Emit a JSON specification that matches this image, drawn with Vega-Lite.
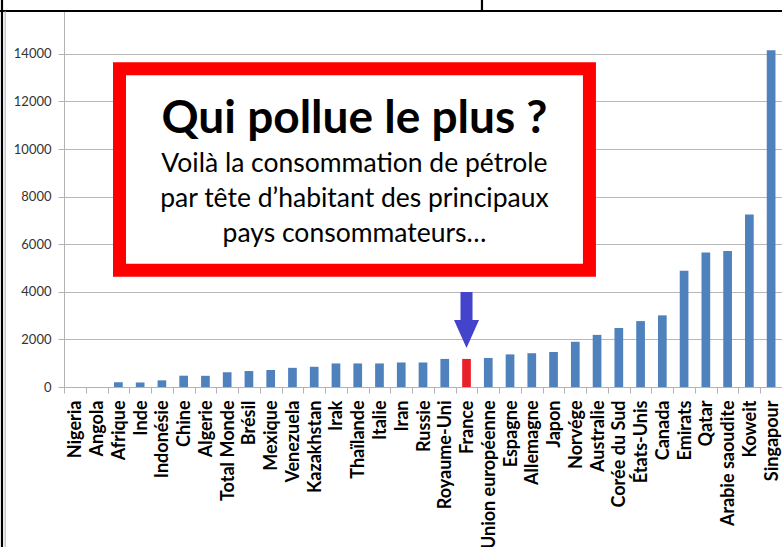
{
  "$schema": "https://vega.github.io/schema/vega-lite/v6.json",
  "autosize": "none",
  "width": 718,
  "height": 376,
  "padding": {"left": 64, "top": 11, "right": 0, "bottom": 160},
  "background": "white",
  "config": {"view": {"stroke": null}},
  "resolve": {"scale": {"x": "independent"}, "axis": {"y": "independent"}},
  "layer": [
    {
      "data": {"values": [
        {"pays": "Nigeria", "conso": 0},
        {"pays": "Angola", "conso": 0},
        {"pays": "Afrique", "conso": 200},
        {"pays": "Inde", "conso": 190},
        {"pays": "Indonésie", "conso": 280},
        {"pays": "Chine", "conso": 475},
        {"pays": "Algerie", "conso": 470},
        {"pays": "Total Monde", "conso": 620},
        {"pays": "Brésil", "conso": 670},
        {"pays": "Mexique", "conso": 715},
        {"pays": "Venezuela", "conso": 805},
        {"pays": "Kazakhstan", "conso": 850},
        {"pays": "Irak", "conso": 990},
        {"pays": "Thaïlande", "conso": 990},
        {"pays": "Italie", "conso": 990},
        {"pays": "Iran", "conso": 1030},
        {"pays": "Russie", "conso": 1030},
        {"pays": "Royaume-Uni", "conso": 1180},
        {"pays": "France", "conso": 1180},
        {"pays": "Union européenne", "conso": 1220},
        {"pays": "Espagne", "conso": 1370},
        {"pays": "Allemagne", "conso": 1420},
        {"pays": "Japon", "conso": 1470},
        {"pays": "Norvége", "conso": 1900},
        {"pays": "Australie", "conso": 2190},
        {"pays": "Corée du Sud", "conso": 2480},
        {"pays": "États-Unis", "conso": 2770},
        {"pays": "Canada", "conso": 3010},
        {"pays": "Emirats", "conso": 4880},
        {"pays": "Qatar", "conso": 5650},
        {"pays": "Arabie saoudite", "conso": 5710},
        {"pays": "Koweit", "conso": 7250},
        {"pays": "Singapour", "conso": 14150}
      ]},
      "mark": {"type": "bar", "width": {"band": 0.4}},
      "encoding": {
        "x": {
          "field": "pays", "type": "nominal", "sort": null,
          "scale": {"paddingInner": 0, "paddingOuter": 0},
          "axis": {
            "title": null, "labelAngle": 270, "labelAlign": "right", "labelBaseline": "middle",
            "labelFont": "Lato", "labelFontWeight": "bold", "labelFontSize": 18, "labelColor": "#000000",
            "labelPadding": 7, "labelLimit": 0, "tickSize": 6, "tickBand": "extent",
            "tickColor": "#B3B3B3", "domainColor": "#B3B3B3", "labelOffset": 1
          }
        },
        "y": {
          "field": "conso", "type": "quantitative",
          "scale": {"domain": [0, 15800], "nice": false, "zero": true},
          "axis": {
            "title": null, "values": [0, 2000, 4000, 6000, 8000, 10000, 12000, 14000],
            "labelFont": "Lato", "labelFontSize": 13, "labelColor": "#333333", "labelPadding": 7,
            "tickSize": 6, "tickColor": "#B3B3B3", "domainColor": "#B3B3B3",
            "grid": true, "gridColor": "#B8B8B8", "format": "d"
          }
        },
        "color": {
          "condition": {"test": "datum.pays === 'France'", "value": "#E8202A"},
          "value": "#4F81BD"
        }
      }
    },
    {
      "layer": [
        {
          "data": {"values": [{"x0": 2.551, "x1": 24.15, "y0": 4908, "y1": 13371}]},
          "mark": {"type": "rect", "fill": "white", "stroke": "#FF0000", "strokeWidth": 13},
          "encoding": {
            "x": {"field": "x0", "type": "quantitative", "scale": {"domain": [0, 33], "nice": false, "zero": false}, "axis": null},
            "x2": {"field": "x1"},
            "y": {"field": "y0", "type": "quantitative", "scale": {"domain": [0, 15800], "nice": false}, "axis": null},
            "y2": {"field": "y1"}
          }
        },
        {
          "data": {"values": [{"x": 13.35, "y": 10673, "texte": "Qui pollue le plus ?"}]},
          "mark": {"type": "text", "font": "Lato", "fontWeight": "bold", "fontSize": 46, "align": "center", "baseline": "alphabetic", "color": "#000000"},
          "encoding": {
            "x": {"field": "x", "type": "quantitative", "scale": {"domain": [0, 33], "nice": false, "zero": false}, "axis": null},
            "y": {"field": "y", "type": "quantitative", "scale": {"domain": [0, 15800], "nice": false}, "axis": null},
            "text": {"field": "texte"}
          }
        },
        {
          "data": {"values": [
            {"x": 13.35, "y": 9047, "texte": "Voilà la consommation de pétrole"},
            {"x": 13.35, "y": 7576, "texte": "par tête d’habitant des principaux"},
            {"x": 13.35, "y": 6105, "texte": "pays consommateurs…"}
          ]},
          "mark": {"type": "text", "font": "Lato", "fontSize": 26.5, "align": "center", "baseline": "alphabetic", "color": "#000000"},
          "encoding": {
            "x": {"field": "x", "type": "quantitative", "scale": {"domain": [0, 33], "nice": false, "zero": false}, "axis": null},
            "y": {"field": "y", "type": "quantitative", "scale": {"domain": [0, 15800], "nice": false}, "axis": null},
            "text": {"field": "texte"}
          }
        },
        {
          "data": {"values": [{"x": 18.5, "y": 2815}]},
          "mark": {"type": "point", "filled": true, "opacity": 1, "size": 625, "color": "#4343CC", "strokeWidth": 0,
                   "shape": "M-0.48,-2.24L0.48,-2.24L0.48,0L1,0L0,2.24L-1,0L-0.48,0Z"},
          "encoding": {
            "x": {"field": "x", "type": "quantitative", "scale": {"domain": [0, 33], "nice": false, "zero": false}, "axis": null},
            "y": {"field": "y", "type": "quantitative", "scale": {"domain": [0, 15800], "nice": false}, "axis": null}
          }
        },
        {
          "data": {"values": [
            {"x0": -2.94, "x1": 33, "y0": 15800, "y1": 15800, "trait": "haut"},
            {"x0": 19.21, "x1": 19.21, "y0": 15800, "y1": 16400, "trait": "cellule"},
            {"x0": -2.85, "x1": -2.85, "y0": -7000, "y1": 16400, "trait": "gauche"}
          ]},
          "mark": {"type": "rule", "strokeWidth": 2.2, "color": "#000000"},
          "encoding": {
            "x": {"field": "x0", "type": "quantitative", "scale": {"domain": [0, 33], "nice": false, "zero": false}, "axis": null},
            "x2": {"field": "x1"},
            "y": {"field": "y0", "type": "quantitative", "scale": {"domain": [0, 15800], "nice": false}, "axis": null},
            "y2": {"field": "y1"}
          }
        },
        {
          "data": {"values": [{"x0": -2.70, "y0": -7000, "y1": 15780}]},
          "mark": {"type": "rule", "strokeWidth": 1.5, "color": "#C8C8C8"},
          "encoding": {
            "x": {"field": "x0", "type": "quantitative", "scale": {"domain": [0, 33], "nice": false, "zero": false}, "axis": null},
            "y": {"field": "y0", "type": "quantitative", "scale": {"domain": [0, 15800], "nice": false}, "axis": null},
            "y2": {"field": "y1"}
          }
        }
      ]
    }
  ]
}
